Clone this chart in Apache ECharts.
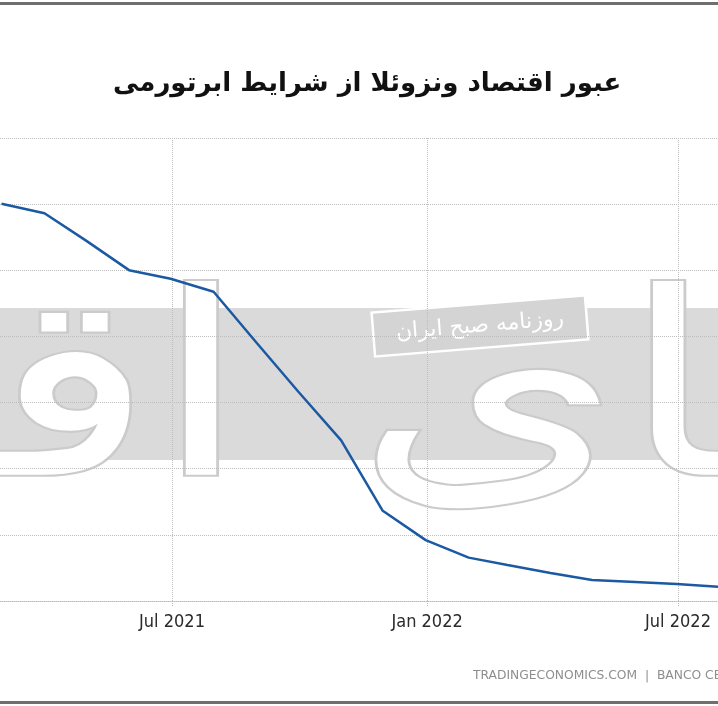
<!DOCTYPE html>
<html>
<head>
<meta charset="utf-8">
<script src="https://cdn.jsdelivr.net/npm/echarts@6/dist/echarts.min.js"></script>
<style>
html,body{margin:0;padding:0;background:#fff;}
#c{width:718px;height:706px;}
</style>
</head>
<body>
<div id="c"></div>
<script>
// Venezuela year-on-year inflation (%), monthly
const dates = ['2021-02-28','2021-03-31','2021-04-30','2021-05-31','2021-06-30','2021-07-31','2021-08-31','2021-09-30','2021-10-31','2021-11-30','2021-12-31','2022-01-31','2022-02-28','2022-03-31','2022-04-30','2022-05-31','2022-06-30','2022-07-31'];
const inflation = [3003,2931,2724,2501,2436,2338,1952,1584,1214,682,460,328,272,212,158,143,128,106];
const xTickDates = ['2021-07-01','2022-01-01','2022-07-01'];
const monthNames = ['Jan','Feb','Mar','Apr','May','Jun','Jul','Aug','Sep','Oct','Nov','Dec'];
const titleText = 'عبور اقتصاد ونزوئلا از شرایط ابرتورمی';
const sourceText = 'TRADINGECONOMICS.COM  |  BANCO CENTRAL DE VENEZUELA';
const watermarkBig = 'دنیای اقتصاد';
const watermarkSmall = 'روزنامه صبح ایران';

const toTs = d => new Date(d + 'T00:00:00').getTime();
const chart = echarts.init(document.getElementById('c'), null, {renderer: 'canvas'});
const xMin = new Date('2021-02-26T22:00:00').getTime();
const xMax = new Date('2022-07-29T20:00:00').getTime();
const tickVals = xTickDates.map(toTs);

chart.setOption({
  backgroundColor: '#fff',
  animation: false,
  title: {
    text: titleText,
    left: 108,
    top: 66,
    textStyle: {fontFamily: 'DejaVu Sans', fontWeight: 'bold', fontSize: 26, color: '#111'}
  },
  grid: {left: 0, right: 0, top: 138, bottom: 105},
  xAxis: {
    type: 'value',
    min: xMin,
    max: xMax,
    axisLine: {show: true, lineStyle: {color: '#bbb', type: 'dotted', width: 1}},
    axisTick: {show: true, customValues: tickVals, length: 6, lineStyle: {color: '#bbb', type: 'dotted'}},
    axisLabel: {
      customValues: tickVals,
      margin: 12,
      color: '#2a2a2a',
      fontFamily: 'DejaVu Sans Condensed',
      fontSize: 18,
      formatter: v => { const d = new Date(v); return monthNames[d.getMonth()] + ' ' + d.getFullYear(); }
    },
    splitLine: {show: true, lineStyle: {color: '#bdbdbd', type: 'dotted', width: 1}}
  },
  yAxis: {
    type: 'value',
    min: 0,
    max: 3500,
    interval: 500,
    axisLabel: {show: false},
    axisLine: {show: false},
    axisTick: {show: false},
    splitLine: {show: true, lineStyle: {color: '#bdbdbd', type: 'dotted', width: 1}}
  },
  series: [{
    type: 'line',
    data: dates.map((d, i) => [toTs(d), inflation[i]]),
    showSymbol: false,
    clip: true,
    lineStyle: {color: '#1b5aa2', width: 2.5},
    z: 5
  }],
  graphic: [
    {type: 'rect', z: -20, shape: {x: 0, y: 308, width: 718, height: 152}, style: {fill: '#dadada'}},
    {type: 'text', z: -15, x: 1072, y: 536, scaleX: 1.13, scaleY: 0.85, style: {text: watermarkBig, fontFamily: 'DejaVu Sans', fontSize: 300, fill: '#ffffff', stroke: '#cbcbcb', lineWidth: 5, textAlign: 'right', textVerticalAlign: 'bottom'}},
    {type: 'group', z: -10, x: 480, y: 326, rotation: 4.6 * Math.PI / 180, children: [
      {type: 'rect', z: -10, shape: {x: -107, y: -22, width: 214, height: 44}, style: {fill: '#d4d4d4', stroke: '#fff', lineWidth: 2.5}},
      {type: 'text', z: -9, x: 0, y: 0, style: {text: watermarkSmall, fontFamily: 'DejaVu Sans', fontSize: 22, fill: '#fff', textAlign: 'center', textVerticalAlign: 'middle'}}
    ]},
    {type: 'text', x: 473, y: 676, style: {text: sourceText, fontFamily: 'DejaVu Sans', fontSize: 12.3, fill: '#8e8e8e', textVerticalAlign: 'middle'}},
    {type: 'rect', shape: {x: 0, y: 2, width: 718, height: 3}, style: {fill: '#6f6f6f'}},
    {type: 'rect', shape: {x: 0, y: 701, width: 718, height: 3}, style: {fill: '#6f6f6f'}}
  ]
});
</script>
</body>
</html>
